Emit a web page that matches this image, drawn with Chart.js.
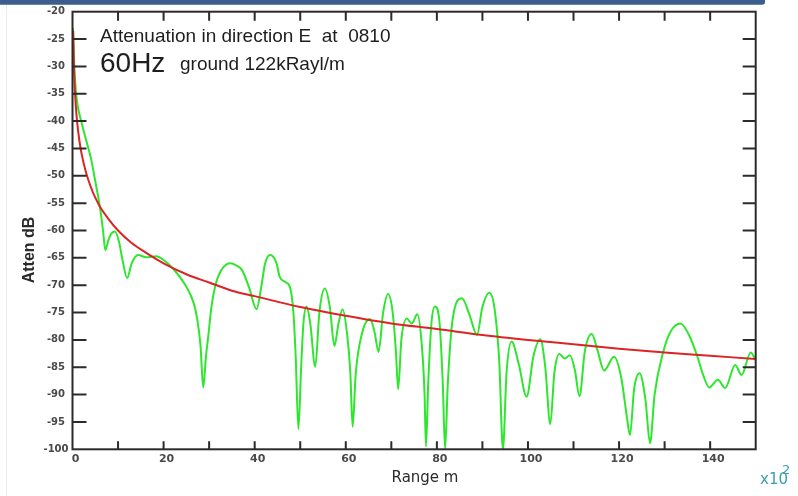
<!DOCTYPE html>
<html><head><meta charset="utf-8">
<script src="https://cdn.jsdelivr.net/npm/chart.js@4.4.1/dist/chart.umd.min.js"></script>
<style>html,body{margin:0;padding:0;background:#fff;overflow:hidden}</style>
</head><body>
<canvas id="c" width="798" height="496"></canvas>
<script>
// ---- data ----
const rangeGreen = [0.1,0.3,0.6,1.0,1.9,3.0,4.1,5.0,6.0,6.7,7.2,7.8,8.5,9.3,10.2,11.0,12.0,13.0,14.4,16.2,18.4,20,22,25,26.5,27.3,28.1,28.7,29.3,29.8,30.5,31.3,32.5,34.6,36,37.2,38.8,40.4,41.5,42.3,43.4,44.8,45.5,46.7,47.8,48.5,49.0,49.6,50.2,50.7,51.4,52.2,53.3,54.2,55.4,56.5,57.5,58.4,59.3,60.3,61.0,61.5,62.2,63.5,65.3,66.3,67.2,68.2,69.3,70.3,71.0,71.5,72.2,73.4,74.5,75.7,76.7,77.3,77.6,78.1,78.8,79.6,80.6,81.3,81.8,82.4,83.5,85.5,87.2,88.8,90.0,91.5,92.7,93.7,94.5,95.3,96.4,98,99.7,101.2,102.7,103.8,104.9,105.8,106.9,108.1,109.2,110.3,111.3,112.5,114.0,115.3,116.7,118.9,120.5,121.7,122.4,123.3,124.5,125.8,126.8,127.8,129.7,131.3,133.5,135.3,137.1,138.5,139.8,141.7,143.3,145.5,146.9,148.9,150];
const attenGreen = [-23,-28,-33,-36.5,-40,-43.5,-47,-51,-55.6,-60,-63.6,-62,-60.6,-60.2,-62,-65.5,-68.7,-66,-64.5,-64.9,-64.7,-65.4,-66.9,-70.3,-73,-75.8,-81,-88.7,-83,-79.4,-74,-70.3,-67.5,-66,-66.4,-67.2,-70.5,-74.4,-70,-66,-64.5,-66,-68.5,-69.4,-70.5,-75,-83,-96.3,-85,-77,-73.9,-77,-84.9,-75,-70.6,-74,-81.1,-77,-74.4,-79,-86,-95.9,-86,-79,-76.2,-78.5,-82.2,-75,-71.6,-75,-82,-89,-80,-76.1,-77,-75.3,-81,-90,-99.5,-88,-77,-73.9,-77,-88,-100,-88,-76,-72.4,-75.5,-79.1,-74,-71.4,-74.5,-84,-100,-86,-80.3,-84.5,-90.4,-83,-79.9,-85,-95.4,-86,-82.6,-83.4,-82.8,-85.5,-90.3,-82,-78.9,-82,-85.6,-83.1,-87,-94,-97.4,-89,-86.1,-91,-98.9,-90,-82.2,-78.5,-77,-79,-82.8,-86.5,-88.7,-87.3,-88.8,-84.6,-86.4,-82.3,-83.7];
const rangeRed = [0.15,0.3,0.5,0.75,1,1.5,2,3,4,5,6,8,10,13,16,20,25,30,35,40,50,60,70,80,90,100,110,120,130,140,150];
const attenRed = [-23.5,-29.5,-34,-37.5,-40,-43.5,-46,-49.5,-52,-54,-55.6,-58,-60,-62.3,-64,-66,-68,-69.5,-71,-72,-74,-75.6,-77,-78,-79.1,-80,-80.8,-81.6,-82.3,-82.9,-83.5];
const xTickMarks = [10,20,30,40,50,60,70,80,90,100,110,120,130,140];
const yTickMarks = [-25,-30,-35,-40,-45,-50,-55,-60,-65,-70,-75,-80,-85,-90,-95];
const titleLine1 = "Attenuation in direction E  at  0810";
const titleFreq = "60Hz";
const titleGround = "ground 122kRayl/m";
const xAxisTitle = "Range m";
const yAxisTitle = "Atten dB";

const toPts = (xs, ys) => xs.map((v, i) => ({x: v, y: ys[i]}));

const deco = {
  id: 'deco',
  beforeDraw(chart) {
    const ctx = chart.ctx;
    ctx.save();
    ctx.fillStyle = '#fff';
    ctx.fillRect(0, 0, chart.width, chart.height);
    ctx.fillStyle = '#3b5e8c';
    ctx.beginPath();
    ctx.moveTo(0, 0); ctx.lineTo(765, 0); ctx.lineTo(765, 2);
    ctx.quadraticCurveTo(765, 4.7, 762, 4.7); ctx.lineTo(0, 4.7); ctx.closePath();
    ctx.fill();
    ctx.strokeStyle = '#ececec'; ctx.lineWidth = 1;
    ctx.beginPath(); ctx.moveTo(6.5, 5); ctx.lineTo(6.5, chart.height); ctx.stroke();
    ctx.restore();
  },
  afterDatasetsDraw(chart) {
    const {ctx, chartArea: a, scales: {x, y}} = chart;
    ctx.save();
    ctx.strokeStyle = '#2b2b2b';
    ctx.lineWidth = 2;
    ctx.beginPath();
    for (const v of xTickMarks) {
      const px = x.getPixelForValue(v);
      ctx.moveTo(px, a.bottom); ctx.lineTo(px, a.bottom - 8);
      ctx.moveTo(px, a.top); ctx.lineTo(px, a.top + 9);
    }
    for (const v of yTickMarks) {
      const py = y.getPixelForValue(v);
      ctx.moveTo(a.left, py); ctx.lineTo(a.left + 14, py);
      ctx.moveTo(a.right, py); ctx.lineTo(a.right - 13, py);
    }
    ctx.stroke();
    ctx.strokeRect(a.left, a.top, a.right - a.left, a.bottom - a.top);
    ctx.restore();
  },
  afterDraw(chart) {
    const ctx = chart.ctx;
    ctx.save();
    ctx.fillStyle = '#1e1e1e';
    ctx.textBaseline = 'alphabetic';
    ctx.textAlign = 'left';
    ctx.font = '19px "Liberation Sans", Arial, sans-serif';
    ctx.fillText(titleLine1, 100, 41.7);
    ctx.font = '28px "Liberation Sans", Arial, sans-serif';
    ctx.fillText(titleFreq, 100, 71.7);
    ctx.font = '19px "Liberation Sans", Arial, sans-serif';
    ctx.fillText(titleGround, 180, 70);
    ctx.fillStyle = '#2a2a2a';
    ctx.textAlign = 'center';
    ctx.textBaseline = 'middle';
    ctx.font = '15px "DejaVu Sans", sans-serif';
    ctx.fillText(xAxisTitle, 425, 478);
    ctx.save();
    ctx.translate(30, 250);
    ctx.rotate(-Math.PI / 2);
    ctx.font = 'bold 16px "Liberation Sans", Arial, sans-serif';
    ctx.fillText(yAxisTitle, 0, 0);
    ctx.restore();
    ctx.fillStyle = '#3a9fb3';
    ctx.textAlign = 'left';
    ctx.textBaseline = 'alphabetic';
    ctx.font = '15px "DejaVu Sans", sans-serif';
    ctx.fillText('x10', 760, 484);
    ctx.font = '13px "DejaVu Sans", sans-serif';
    ctx.fillText('2', 782, 474);
    ctx.restore();
  }
};

new Chart(document.getElementById('c'), {
  type: 'line',
  data: {
    datasets: [
      { data: toPts(rangeRed, attenRed), borderColor: '#dc2424', borderWidth: 2, pointRadius: 0, cubicInterpolationMode: 'monotone', fill: false },
      { data: toPts(rangeGreen, attenGreen), borderColor: '#2ee62e', borderWidth: 2, pointRadius: 0, cubicInterpolationMode: 'monotone', fill: false }
    ]
  },
  options: {
    responsive: false,
    animation: false,
    devicePixelRatio: 1,
    layout: { padding: { top: 11.7, right: 42.3, left: 0, bottom: 0 } },
    plugins: { legend: { display: false }, tooltip: { enabled: false } },
    scales: {
      x: {
        type: 'linear', min: 0, max: 150,
        grid: { display: false, drawTicks: false },
        border: { display: false },
        ticks: { stepSize: 20, includeBounds: false, padding: 3, labelOffset: 3,
                 color: '#4a4a4a', font: { family: '"DejaVu Sans", sans-serif', size: 11, weight: 'bold' } },
        afterFit: s => { s.height = 46.7; }
      },
      y: {
        type: 'linear', min: -100, max: -20,
        grid: { display: false, drawTicks: false },
        border: { display: false },
        ticks: { stepSize: 5, crossAlign: 'center', padding: 4,
                 color: '#4a4a4a', font: { family: '"DejaVu Sans", sans-serif', size: 10, weight: 'bold' } },
        afterFit: s => { s.width = 72.5; }
      }
    }
  },
  plugins: [deco]
});
</script>
</body></html>
